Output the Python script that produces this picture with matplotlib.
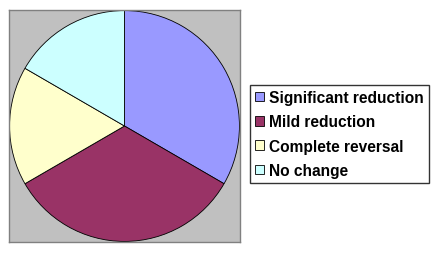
import matplotlib
matplotlib.use("Agg")
import matplotlib.pyplot as plt
from matplotlib.patches import Patch

labels = ["Significant reduction", "Mild reduction", "Complete reversal", "No change"]
values = [2, 2, 1, 1]
colors = ["#9999FF", "#993366", "#FFFFCC", "#CCFFFF"]

W, H = 445, 255
fig = plt.figure(figsize=(W / 100, H / 100), dpi=100)
fig.patch.set_facecolor("white")

ax = fig.add_axes([9 / W, (H - 243) / H, 231 / W, 232 / H])
ax.pie(values, colors=colors, startangle=90, counterclock=False,
       wedgeprops=dict(edgecolor="#000000", linewidth=0.6))
ax.set_frame_on(True)
ax.set_facecolor("#C0C0C0")
ax.set_xlim(-1.005, 1.005)
ax.set_ylim(-1.005, 1.005)
ax.set_aspect("auto")
ax.set_xticks([])
ax.set_yticks([])
for s in ax.spines.values():
    s.set_color("#808080")
    s.set_linewidth(1)
    s.set_visible(True)

handles = [Patch(facecolor=c, edgecolor="black", linewidth=0.6) for c in colors]
leg = fig.legend(handles, labels, loc="center left",
                 bbox_to_anchor=(250 / W, 1 - 135 / H),
                 prop=dict(family="Liberation Sans", weight="bold", size=11.2),
                 frameon=True, fancybox=False, shadow=False,
                 handlelength=0.6, handleheight=0.6, handletextpad=0.35,
                 labelspacing=0.6, borderpad=0.3, borderaxespad=0)
leg.get_frame().set_edgecolor("black")
leg.get_frame().set_linewidth(1)

fig.savefig("out.png", dpi=100, facecolor="white")
